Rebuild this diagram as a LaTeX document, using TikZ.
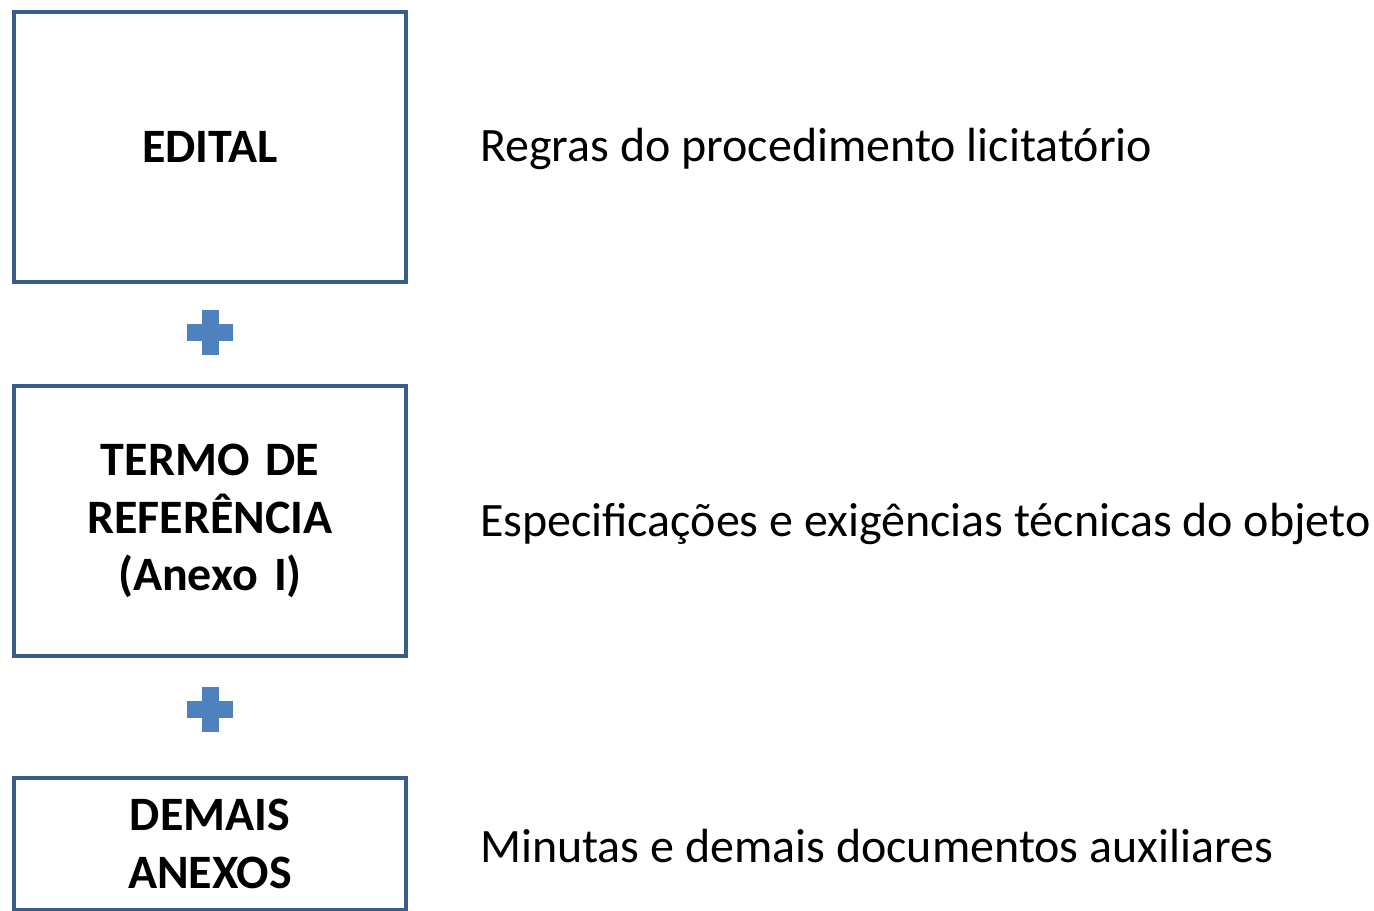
\documentclass[tikz,border=0pt]{standalone}
\usepackage{fontspec}
\setmainfont{Carlito}
\usetikzlibrary{positioning}
\definecolor{boxline}{HTML}{385D8A}
\definecolor{plusfill}{HTML}{4F81BD}

\begin{document}
\begin{tikzpicture}[node distance=1.98cm, auto]
    \tikzset{
      docbox/.style={rectangle,draw=boxline,line width=2.3pt,minimum width=7.84cm,text width=7.5cm,align=center,inner sep=0pt,font=\fontsize{27.3}{32.7}\selectfont\bfseries},
      desc/.style={anchor=base west,inner sep=0pt,outer sep=0pt,font=\fontsize{27.3}{32.7}\selectfont},
      plusbar/.style={fill=plusfill}
    }
    \useasboundingbox (0,0) rectangle (27.48,-18.22);
    \node[docbox,minimum height=5.4cm](edital) at (4.2,-2.94){EDITAL};
    \node[docbox,below=of edital,minimum height=5.4cm,yshift=-0.02cm](termo){TERMO DE\\REFERÊNCIA\\(Anexo I)};
    \node[docbox,below=2.36cm of termo,minimum height=2.64cm](demais){DEMAIS\\ANEXOS};

    \node[desc](regras) at ([xshift=1.44cm,yshift=-0.3cm]edital.east){Regras do procedimento licitatório};
    \node[desc](espec) at ([xshift=1.44cm,yshift=-0.3cm]termo.east){Especificações e exigências técnicas do objeto};
    \node[desc](minutas) at ([xshift=1.44cm,yshift=-0.36cm]demais.east){Minutas e demais documentos auxiliares};

    \coordinate[below=0.96cm of edital.south](plus1);
    \coordinate[below=1.02cm of termo.south](plus2);
    \foreach \p in {plus1,plus2}{
      \fill[plusbar] ([xshift=-0.46cm,yshift=-0.17cm]\p) rectangle ++(0.92,0.34);
      \fill[plusbar] ([xshift=-0.17cm,yshift=-0.45cm]\p) rectangle ++(0.34,0.9);
    }
\end{tikzpicture}
\end{document}
